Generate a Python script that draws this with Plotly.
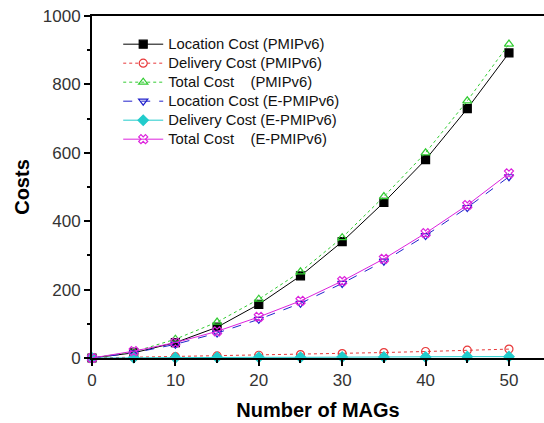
import plotly.graph_objects as go

mags = [0, 5, 10, 15, 20, 25, 30, 35, 40, 45, 50]
loc_pmip = [0, 15, 45, 90, 157, 240, 340, 455, 580, 729, 892]
del_pmip = [0, 2, 4, 6, 8, 10, 13, 16, 19, 23, 26]
tot_pmip = [0, 18, 55, 105, 172, 252, 352, 472, 600, 752, 918]
loc_epmip = [0, 15, 40, 73, 113, 160, 218, 283, 358, 440, 530]
del_epmip = [0, 1, 1, 2, 2, 2, 3, 3, 3, 4, 4]
tot_epmip = [0, 20, 45, 78, 120, 167, 225, 290, 365, 447, 540]

names = ["Location Cost (PMIPv6)", "Delivery Cost (PMIPv6)", "Total Cost    (PMIPv6)",
         "Location Cost (E-PMIPv6)", "Delivery Cost (E-PMIPv6)", "Total Cost    (E-PMIPv6)"]

series = [
    (loc_pmip, "#000000", "solid", "square", "#000000"),
    (del_pmip, "#e8393a", "dot", "circle-open", None),
    (tot_pmip, "#33cc33", "dot", "triangle-up-open", None),
    (loc_epmip, "#2222cc", "dash", "triangle-down-open", None),
    (del_epmip, "#22cccc", "solid", "diamond-cross", "#22cccc"),
    (tot_epmip, "#dd22dd", "solid", "x-open", "#dd22dd"),
]

fig = go.Figure()
for (ys, col, dash, sym, fill), nm in zip(series, names):
    fig.add_trace(go.Scatter(
        x=mags, y=ys, name='<span style="font-size:14.8px">' + nm.replace("  ", "&nbsp;&nbsp;") + "</span>",
        mode="lines+markers",
        line=dict(color=col, width=1, dash=dash),
        marker=dict(symbol=sym, size=8, color=fill if fill else col,
                    line=dict(color=col, width=1.2)),
        cliponaxis=False,
    ))

fig.update_layout(
    width=544, height=423,
    margin=dict(l=92, r=0, t=16, b=65),
    paper_bgcolor="white", plot_bgcolor="white",
    font=dict(family="Arial, Liberation Sans, sans-serif", color="#333333", size=17),
    showlegend=True,
    legend=dict(x=0.058, y=0.96, xanchor="left", yanchor="top",
                bgcolor="rgba(0,0,0,0)", font=dict(size=11.5, color="#111111"),
                tracegroupgap=0, itemwidth=40),
)
fig.update_xaxes(
    range=[0, 54.2], tickvals=[0, 10, 20, 30, 40, 50],
    showgrid=False, zeroline=False,
    showline=True, linecolor="black", linewidth=2, mirror=True,
    ticks="outside", ticklen=6, tickwidth=1.5, tickcolor="black",
    minor=dict(tickvals=[5, 15, 25, 35, 45], ticks="outside", ticklen=3, tickcolor="black"),
    title=dict(text="<b>Number of MAGs</b>", font=dict(size=20, color="black"), standoff=14),
)
fig.update_yaxes(
    range=[0, 1000], tickvals=[0, 200, 400, 600, 800, 1000],
    showgrid=False, zeroline=False,
    showline=True, linecolor="black", linewidth=2,
    ticks="outside", ticklen=6, tickwidth=1.5, tickcolor="black",
    minor=dict(tickvals=[100, 300, 500, 700, 900], ticks="outside", ticklen=3, tickcolor="black"),
    title=dict(text="<b>Costs</b>", font=dict(size=20, color="black"), standoff=8),
)

fig.write_html("out.html")
